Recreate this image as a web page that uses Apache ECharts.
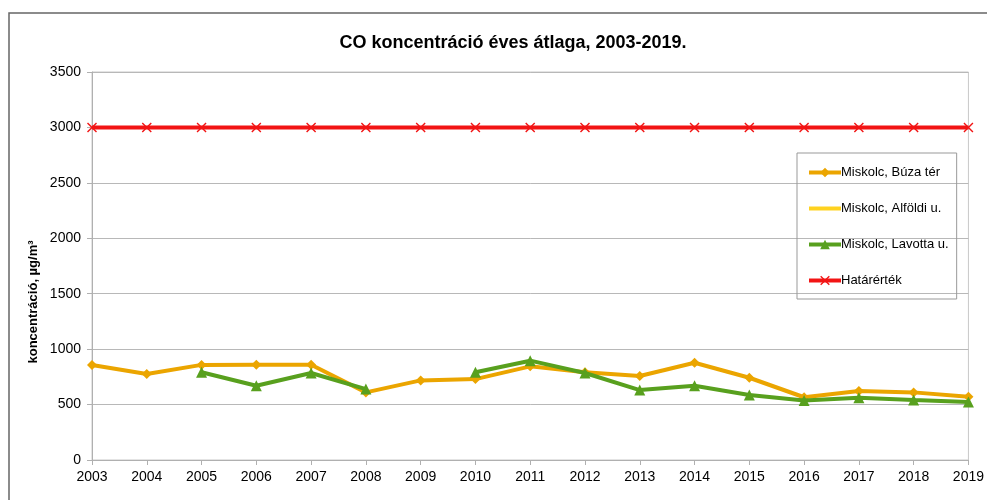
<!DOCTYPE html>
<html>
<head>
<meta charset="utf-8">
<script src="https://cdn.jsdelivr.net/npm/echarts@6/dist/echarts.min.js"></script>
<style>
  html, body { margin: 0; padding: 0; background: #fff; }
  #chart { width: 987px; height: 500px; }
</style>
</head>
<body>
<div id="chart"></div>
<script>
const years = ['2003', '2004', '2005', '2006', '2007', '2008', '2009', '2010', '2011',
  '2012', '2013', '2014', '2015', '2016', '2017', '2018', '2019'];
const buzaTer = [857, 776, 858, 860, 860, 610, 718, 730, 845, 792, 758, 877, 742, 566, 622, 610, 571];
const alfoldi = years.map(() => null);
const lavotta = [null, null, 791, 670, 785, 640, null, 791, 896, 785, 631, 670, 586, 537, 562, 541, 523];
const hatarertek = [3000, 3000, 3000, 3000, 3000, 3000, 3000, 3000, 3000,
  3000, 3000, 3000, 3000, 3000, 3000, 3000, 3000];
const yTicks = { min: 0, max: 3500, interval: 500 };

const crossPath = 'path://M0,1L1,0L5,4L9,0L10,1L6,5L10,9L9,10L5,6L1,10L0,9L4,5Z';

const chart = echarts.init(document.getElementById('chart'));
chart.setOption({
  animation: false,
  textStyle: { fontFamily: 'Liberation Sans, Arial, sans-serif' },
  graphic: [
    {
      type: 'rect',
      shape: { x: 9, y: 13, width: 1000, height: 520 },
      style: { fill: 'none', stroke: '#666', lineWidth: 1.5 },
      silent: true, z: -1
    },
    {
      // y axis title, sits a bit below the plot centre like the original
      type: 'text', x: 33, y: 302, rotation: Math.PI / 2,
      style: {
        text: 'koncentráció, µg/m³', fill: '#000', font: 'bold 13px Liberation Sans, Arial, sans-serif',
        textAlign: 'center', textVerticalAlign: 'middle'
      },
      silent: true
    }
  ],
  title: {
    text: 'CO koncentráció éves átlaga, 2003-2019.',
    left: 508, top: 29, textAlign: 'center',
    textStyle: { fontSize: 18, fontWeight: 'bold', color: '#000' }
  },
  grid: { left: 92, right: 18, top: 72, bottom: 40, show: true, borderColor: '#c8c8c8', borderWidth: 1 },
  legend: {
    orient: 'vertical', left: 797, top: 153, width: 161, height: 144,
    padding: [13, 8, 12, 10],
    itemGap: 23, itemWidth: 32, itemHeight: 12,
    borderColor: '#999', borderWidth: 1,
    lineStyle: { width: 4 },
    textStyle: { fontSize: 13, color: '#000', padding: [0, 0, 0, -5] },
    data: [
      'Miskolc, Búza tér',
      { name: 'Miskolc, Alföldi u.', itemStyle: { opacity: 0 } },
      'Miskolc, Lavotta u.',
      'Határérték'
    ]
  },
  xAxis: {
    type: 'category', data: years, boundaryGap: false,
    axisLine: { lineStyle: { color: '#b0b0b0' } },
    axisTick: { show: true, alignWithLabel: true, length: 5, lineStyle: { color: '#b0b0b0' } },
    axisLabel: { color: '#000', fontSize: 14, margin: 10, interval: 0 },
    splitLine: { show: false }
  },
  yAxis: {
    type: 'value', min: yTicks.min, max: yTicks.max, interval: yTicks.interval,
    axisLine: { show: true, lineStyle: { color: '#b0b0b0' } },
    axisTick: { show: true, length: 5, lineStyle: { color: '#b0b0b0' } },
    axisLabel: { color: '#000', fontSize: 14, margin: 11, formatter: (v) => String(v) },
    splitLine: { lineStyle: { color: '#b8b8b8' } }
  },
  series: [
    { name: 'Miskolc, Búza tér', type: 'line', data: buzaTer, symbol: 'diamond', symbolSize: 10,
      lineStyle: { color: '#EBA500', width: 4 }, itemStyle: { color: '#EBA500' }, z: 3 },
    { name: 'Miskolc, Alföldi u.', type: 'line', data: alfoldi, symbol: 'none',
      lineStyle: { color: '#FFD21F', width: 4 }, itemStyle: { color: '#FFD21F' } },
    { name: 'Miskolc, Lavotta u.', type: 'line', data: lavotta, symbol: 'triangle', symbolSize: 11,
      lineStyle: { color: '#58A01E', width: 4 }, itemStyle: { color: '#58A01E' }, z: 4 },
    { name: 'Határérték', type: 'line', data: hatarertek, symbol: crossPath, symbolSize: 10,
      lineStyle: { color: '#F21414', width: 4 }, itemStyle: { color: '#F21414' } }
  ]
});
</script>
</body>
</html>
